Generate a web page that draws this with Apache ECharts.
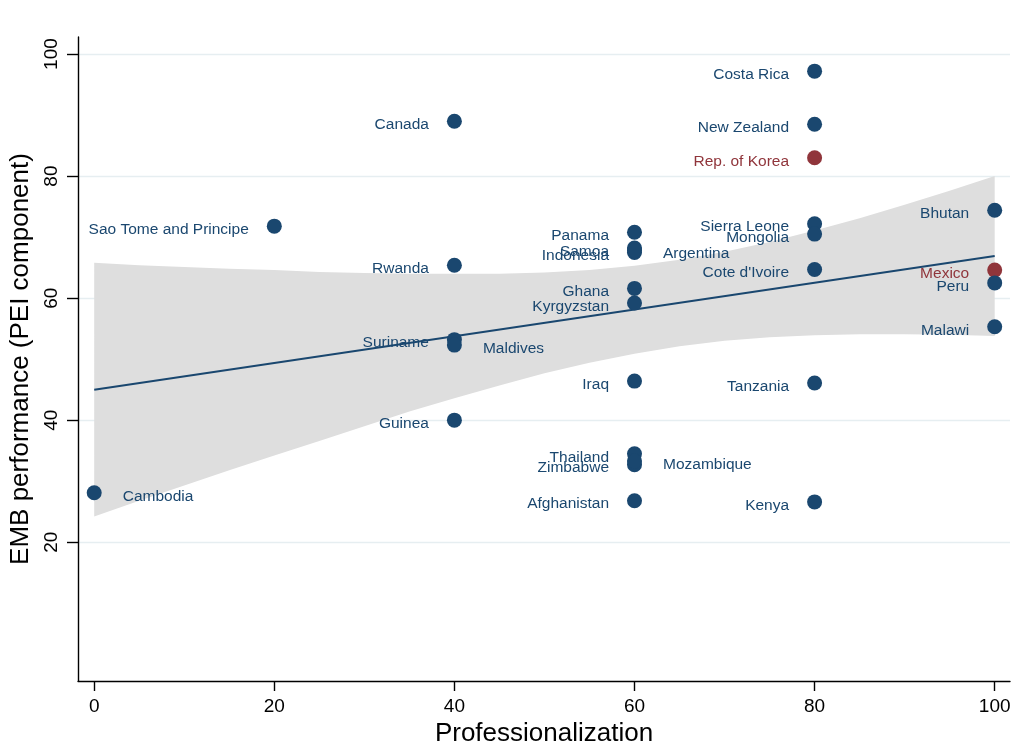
<!DOCTYPE html>
<html>
<head>
<meta charset="utf-8">
<script src="https://cdn.jsdelivr.net/npm/echarts@6/dist/echarts.min.js"></script>
<style>
html,body{margin:0;padding:0;background:#fff;overflow:hidden;}
#chart{width:1025px;height:743px;position:absolute;left:0;top:0;}
</style>
</head>
<body>
<div id="chart"></div>
<script>
// ---- data ----
const countries = ['Costa Rica','Canada','New Zealand','Rep. of Korea','Sao Tome and Principe','Bhutan',
  'Sierra Leone','Mongolia','Panama','Samoa','Indonesia','Argentina','Rwanda','Cote d\'Ivoire','Mexico',
  'Peru','Ghana','Kyrgyzstan','Malawi','Suriname','Maldives','Iraq','Tanzania','Guinea','Thailand',
  'Zimbabwe','Mozambique','Afghanistan','Kenya','Cambodia'];
const professionalization = [80,40,80,80,20,100,80,80,60,60,60,60,40,80,100,100,60,60,100,40,40,60,80,40,60,60,60,60,80,0];
const embPerformance = [97.2,89.0,88.5,83.0,71.8,74.4,72.2,70.5,70.8,68.2,67.5,67.8,65.4,64.7,64.6,62.5,61.6,59.2,55.3,53.2,52.3,46.4,46.1,40.0,34.5,32.7,33.3,26.8,26.6,28.1];
const highlighted = ['Rep. of Korea','Mexico'];
const labelRight = ['Argentina','Maldives','Mozambique','Cambodia'];

const fitX = [0,100];
const fitY = [45.0,66.9];

const bandX = [0,5,10,15,20,25,30,35,40,45,50,55,60,65,70,75,80,85,90,95,100];
const bandUpper = [65.8,65.4,65.1,64.8,64.6,64.3,64.1,64.0,64.0,64.0,64.2,64.6,65.3,66.3,67.6,69.2,71.1,73.1,75.3,77.6,80.0];
const bandLower = [24.2,26.8,29.3,31.8,34.2,36.6,39.0,41.4,43.6,45.7,47.7,49.4,50.9,52.1,53.0,53.6,53.9,54.1,54.1,54.0,53.8];

const xTicks = [0,20,40,60,80,100];
const yTicks = [20,40,60,80,100];

// ---- chart ----
const NAVY = '#1a476f';
const RED = '#90353b';
const FONT = '"Liberation Sans", Arial, Helvetica, sans-serif';

const el = document.getElementById('chart');
const chart = echarts.init(el, null, {renderer:'canvas', width:1025, height:743});

const scatterData = countries.map((name, i) => {
  const isHi = highlighted.indexOf(name) >= 0;
  const right = labelRight.indexOf(name) >= 0;
  const c = isHi ? RED : NAVY;
  return {
    name: name,
    value: [professionalization[i], embPerformance[i]],
    itemStyle: {color: c, opacity: 1},
    label: {
      show: true,
      formatter: name,
      position: right ? 'right' : 'left',
      distance: right ? 21 : 18,
      color: c,
      fontFamily: FONT,
      fontSize: 15.5,
      offset: [0, 3.5]
    }
  };
});

const bandRows = bandX.map((x, i) => [x, bandLower[i], bandUpper[i]]);

const option = {
  animation: false,
  backgroundColor: '#fff',
  grid: {left: 78, right: 15, top: 37, bottom: 62, containLabel: false, outerBoundsMode: 'none'},
  xAxis: {
    type: 'value',
    min: -1.8, max: 101.7,
    name: 'Professionalization',
    nameLocation: 'middle',
    nameGap: 39,
    nameTextStyle: {fontFamily: FONT, fontSize: 26, color: '#000'},
    axisLine: {show: true, onZero: false, lineStyle: {color: '#000', width: 1.4}},
    axisTick: {show: true, length: 10, customValues: xTicks, lineStyle: {color: '#000', width: 1.4}},
    axisLabel: {customValues: xTicks, margin: 16, fontFamily: FONT, fontSize: 19, color: '#000'},
    splitLine: {show: false}
  },
  yAxis: {
    type: 'value',
    min: -2.75, max: 102.8,
    name: 'EMB performance (PEI component)',
    nameLocation: 'middle',
    nameGap: 40,
    nameRotate: 90,
    nameTextStyle: {fontFamily: FONT, fontSize: 26, color: '#000'},
    axisLine: {show: true, onZero: false, lineStyle: {color: '#000', width: 1.4}},
    axisTick: {show: true, length: 11, customValues: yTicks, lineStyle: {color: '#000', width: 1.4}},
    axisLabel: {customValues: yTicks, rotate: 90, margin: 17, fontFamily: FONT, fontSize: 19, color: '#000'},
    splitLine: {show: true, lineStyle: {color: '#e6eef1', width: 1.4}}
  },
  series: [
    {
      type: 'custom',
      z: 1,
      silent: true,
      data: bandRows,
      encode: {x: 0, y: [1, 2]},
      renderItem: function (params, api) {
        if (params.dataIndex !== 0) return null;
        const pts = [];
        for (let i = 0; i < bandRows.length; i++) pts.push(api.coord([bandRows[i][0], bandRows[i][2]]));
        for (let i = bandRows.length - 1; i >= 0; i--) pts.push(api.coord([bandRows[i][0], bandRows[i][1]]));
        return {type: 'polygon', shape: {points: pts}, style: {fill: '#dedede', stroke: null}};
      }
    },
    {
      type: 'line',
      z: 2,
      silent: true,
      symbol: 'none',
      data: fitX.map((x, i) => [x, fitY[i]]),
      lineStyle: {color: NAVY, width: 2}
    },
    {
      type: 'scatter',
      z: 3,
      symbol: 'circle',
      symbolSize: 15,
      itemStyle: {opacity: 1},
      data: scatterData
    }
  ]
};
chart.setOption(option);
</script>
</body>
</html>
